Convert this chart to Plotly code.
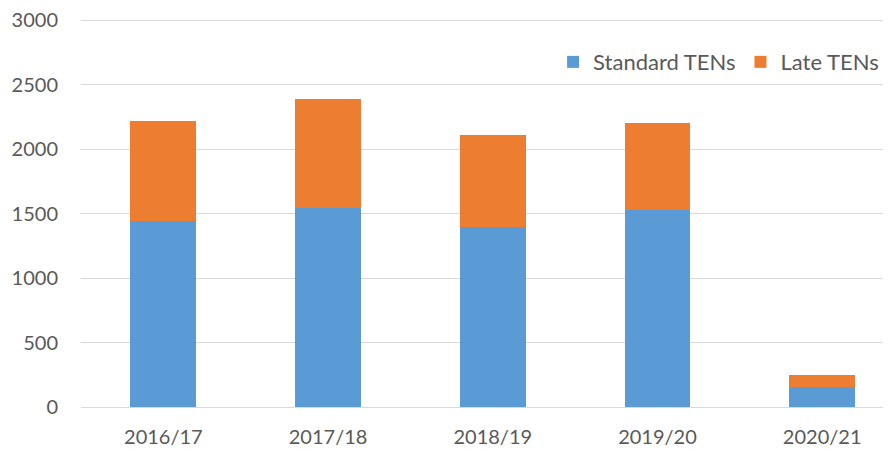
import plotly.graph_objects as go

categories = ["2016/17", "2017/18", "2018/19", "2019/20", "2020/21"]
standard_tens = [1445, 1544, 1393, 1525, 155]
late_tens = [774, 845, 712, 678, 93]
y_ticks = [0, 500, 1000, 1500, 2000, 2500, 3000]

FONT = "Lato"
GREY = "#595959"

fig = go.Figure()
fig.add_trace(go.Bar(x=categories, y=standard_tens, name="Standard TENs",
                     marker=dict(color="#5B9BD5", line=dict(width=0))))
fig.add_trace(go.Bar(x=categories, y=late_tens, name="Late TENs",
                     marker=dict(color="#ED7D31", line=dict(width=0))))

# page body has an 8px default margin, so the figure is sized to compensate
fig.update_layout(
    barmode="stack",
    bargap=0.6,
    width=883, height=442,
    margin=dict(l=73, r=0, t=11, b=43, autoexpand=False),
    plot_bgcolor="white", paper_bgcolor="white",
    font=dict(family=FONT, size=20, color=GREY),
    legend=dict(orientation="h", x=0.9915, xanchor="right", y=0.889, yanchor="middle",
                font=dict(size=22, color=GREY), itemwidth=30, traceorder="normal",
                bgcolor="rgba(0,0,0,0)"),
    hovermode=False,
)
fig.update_xaxes(type="category", range=[-0.5, 4.418], showgrid=False, showline=False,
                 ticks="", tickfont=dict(size=20, color=GREY), ticklabelstandoff=16)
fig.update_yaxes(range=[0, 3008], tickvals=y_ticks, showgrid=True, gridcolor="#D9D9D9",
                 gridwidth=1.3, zeroline=True, zerolinecolor="#D9D9D9", zerolinewidth=1.3,
                 showline=False, ticks="", tickfont=dict(size=20, color=GREY),
                 ticklabelstandoff=22, ticklabeloverflow="allow")

fig.write_html("out.html")
